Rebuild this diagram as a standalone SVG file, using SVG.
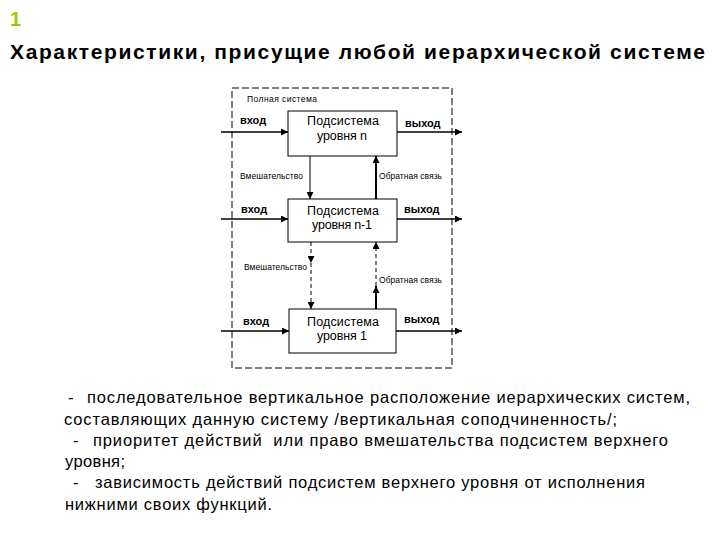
<svg xmlns="http://www.w3.org/2000/svg" width="720" height="540" viewBox="0 0 720 540">
<defs>
<marker id="ah" viewBox="0 0 10 10" refX="10" refY="5" markerWidth="7" markerHeight="7" markerUnits="userSpaceOnUse" orient="auto">
<path d="M0,0 L10,5 L0,10 z" fill="#000"/>
</marker>
</defs>
<style>
.box{fill:#fff;stroke:#000;stroke-width:1}
.frame{fill:none;stroke:#000;stroke-width:1;stroke-dasharray:7,3}
.ln{stroke:#000;stroke-width:1.5;fill:none}
.thin{stroke:#000;stroke-width:1;fill:none}
.thick{stroke:#000;stroke-width:2;fill:none}
.dash{stroke-dasharray:4,3}
.bt{font-family:"Liberation Sans",Arial,sans-serif;font-size:12.5px;text-anchor:middle;fill:#000}
.io{font-family:"Liberation Sans",Arial,sans-serif;font-size:11px;font-weight:bold;fill:#000}
.sm{font-family:"Liberation Sans",Arial,sans-serif;font-size:8.5px;fill:#000}
.body{font-family:"Liberation Sans",Arial,sans-serif;font-size:16.5px;fill:#000}
</style>
<rect width="720" height="540" fill="#fff"/>
<text x="10" y="26" font-family="Liberation Sans,Arial,sans-serif" font-size="20" font-weight="bold" fill="#99cc00">1</text>
<text x="10" y="59" font-family="Liberation Sans,Arial,sans-serif" font-size="21" font-weight="bold" fill="#000" textLength="695" lengthAdjust="spacing">Характеристики, присущие любой иерархической системе</text>

<g id="frame">
<rect class="frame" x="232" y="88" width="220" height="280"/>
<text class="sm" x="247" y="102" textLength="70" lengthAdjust="spacing">Полная система</text>
</g>

<g id="connectors">
<line class="ln" x1="221" y1="132" x2="288" y2="132" marker-end="url(#ah)"/>
<line class="ln" x1="397" y1="132" x2="462" y2="132" marker-end="url(#ah)"/>
<line class="ln" x1="221" y1="219" x2="288" y2="219" marker-end="url(#ah)"/>
<line class="ln" x1="397" y1="219" x2="462" y2="219" marker-end="url(#ah)"/>
<line class="ln" x1="221" y1="331" x2="289" y2="331" marker-end="url(#ah)"/>
<line class="ln" x1="396" y1="331" x2="462" y2="331" marker-end="url(#ah)"/>
<line class="thin" x1="310" y1="156" x2="310" y2="199" marker-end="url(#ah)"/>
<line class="thick" x1="376" y1="199" x2="376" y2="156" marker-end="url(#ah)"/>
<line class="thin dash" x1="311" y1="242" x2="311" y2="263" marker-end="url(#ah)"/>
<line class="thin dash" x1="311" y1="263" x2="311" y2="309" marker-end="url(#ah)"/>
<line class="thick" x1="376" y1="309" x2="376" y2="286" marker-end="url(#ah)"/>
<line class="thin dash" x1="376" y1="286" x2="376" y2="242" marker-end="url(#ah)"/>
<text class="io" x="240" y="124">вход</text>
<text class="io" x="405" y="127">выход</text>
<text class="io" x="241" y="213">вход</text>
<text class="io" x="404" y="213">выход</text>
<text class="io" x="243" y="325">вход</text>
<text class="io" x="404" y="323">выход</text>
<text class="sm" x="240" y="179" textLength="63" lengthAdjust="spacing">Вмешательство</text>
<text class="sm" x="379" y="179" textLength="63" lengthAdjust="spacing">Обратная связь</text>
<text class="sm" x="244" y="270" textLength="63" lengthAdjust="spacing">Вмешательство</text>
<text class="sm" x="379" y="283" textLength="63" lengthAdjust="spacing">Обратная связь</text>
</g>

<g id="node-n">
<rect class="box" x="288" y="111" width="109" height="45"/>
<text class="bt" x="343" y="125" textLength="72" lengthAdjust="spacing">Подсистема</text>
<text class="bt" x="342" y="140" textLength="50" lengthAdjust="spacing">уровня n</text>
</g>
<g id="node-n1">
<rect class="box" x="288" y="199" width="109" height="43"/>
<text class="bt" x="343" y="215" textLength="72" lengthAdjust="spacing">Подсистема</text>
<text class="bt" x="342" y="229" textLength="60" lengthAdjust="spacing">уровня n-1</text>
</g>
<g id="node-1">
<rect class="box" x="289" y="309" width="107" height="44"/>
<text class="bt" x="343" y="326" textLength="72" lengthAdjust="spacing">Подсистема</text>
<text class="bt" x="342" y="340" textLength="50" lengthAdjust="spacing">уровня 1</text>
</g>

<g id="notes" class="body">
<text x="68" y="403">-</text>
<text x="87" y="403" textLength="603" lengthAdjust="spacing">последовательное вертикальное расположение иерархических систем,</text>
<text x="64" y="425" textLength="553" lengthAdjust="spacing">составляющих данную систему /вертикальная соподчиненность/;</text>
<text x="73" y="446">-</text>
<text x="93" y="446" xml:space="preserve" textLength="575" lengthAdjust="spacing">приоритет действий  или право вмешательства подсистем верхнего</text>
<text x="65" y="467" textLength="60" lengthAdjust="spacing">уровня;</text>
<text x="73" y="488">-</text>
<text x="95" y="488" textLength="550" lengthAdjust="spacing">зависимость действий подсистем верхнего уровня от исполнения</text>
<text x="65" y="510" textLength="207" lengthAdjust="spacing">нижними своих функций.</text>
</g>
</svg>
